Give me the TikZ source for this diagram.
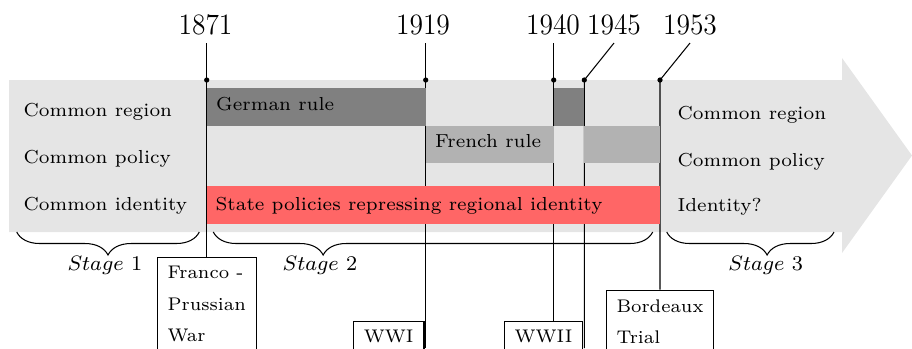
\documentclass[tikz,border=0pt]{standalone}
\usepackage{graphicx}
\usetikzlibrary{decorations.pathreplacing}
\newcommand{\yr}[1]{\scalebox{0.93}[1]{#1}}
\begin{document}
\begin{tikzpicture}[x=0.3825pt,y=-0.3825pt,
  rowtext/.style={font=\fontsize{7.2}{9}\selectfont, inner sep=0pt, anchor=base west},
  yearlabel/.style={font=\fontsize{11.3}{13}\selectfont, inner sep=0pt, anchor=base},
  eventbox/.style={draw, fill=white, font=\fontsize{7}{12}\selectfont, align=left, inner xsep=4pt, inner ysep=3.5pt},
  tick/.style={line width=0.4pt},
  datedot/.style={circle, fill=black, inner sep=0pt, minimum size=2pt},
  stagebrace/.style={decorate, decoration={brace, mirror, amplitude=8.8pt, aspect=#1}},
  stagelabel/.style={font=\footnotesize, inner sep=0pt, anchor=base},
]
\useasboundingbox (0,0) rectangle (912,348);
\clip (0,0) rectangle (912,348);
% big arrow
\fill[gray!20] (9,80) -- (842,80) -- (842,58) -- (912,155.5) -- (842,253) -- (842,232) -- (9,232) -- cycle;
% coordinates
\coordinate (t1871) at (206.7,43);  \coordinate (d1871) at (206.7,80);
\coordinate (t1919) at (425.7,43);  \coordinate (d1919) at (425.7,80);  \coordinate (b1919) at (425.7,348);
\coordinate (t1940) at (553.7,43);  \coordinate (d1940) at (553.7,80);
\coordinate (t1945) at (614,43);    \coordinate (d1945) at (584.3,80);  \coordinate (b1945) at (584.3,348);
\coordinate (t1953) at (690,43);    \coordinate (d1953) at (660,80);
% event boxes
\node[eventbox, anchor=north] (franco) at (206.7,256.7) {Franco -\\Prussian\\War};
\node[eventbox, anchor=north east] (wwi) at (424.5,320.7) {WWI};
\node[eventbox, anchor=north east] (wwii) at (583.3,320.7) {WWII};
\node[eventbox, anchor=north] (bordeaux) at (660,289.7) {Bordeaux\\Trial};
% date lines
\draw[tick] (t1871) -- (franco.north);
\draw[tick] (t1919) -- (b1919);
\draw[tick] (t1940) -- (d1940 |- wwii.north);
\draw[tick] (t1945) -- (d1945) -- (b1945);
\draw[tick] (t1953) -- (d1953) -- (bordeaux.north);
% bars
\fill[gray] (206.7,88) rectangle (425.7,125.5);
\fill[gray] (553.7,88) rectangle (584.3,125.5);
\fill[gray!60] (425.7,125.5) rectangle (553.7,163);
\fill[gray!60] (584.3,125.5) rectangle (660,163);
\fill[red!60] (206.7,186) rectangle (660,224);
% dots
\foreach \d in {d1871,d1919,d1940,d1945,d1953} \node[datedot] at (\d) {};
% years
\node[yearlabel] (y1871) at (205.5,34) {\yr{1871}};
\node[yearlabel] (y1919) at (423,34) {\yr{1919}};
\node[yearlabel] (y1940) at (553,34) {\yr{1940}};
\node[yearlabel] (y1945) at (614,34) {\yr{1945}};
\node[yearlabel] (y1953) at (690,34) {\yr{1953}};
% row texts
\node[rowtext] (lreg) at (23,116.7) {Common region};
\node[rowtext] (lpol) at (23,163.3) {Common policy};
\node[rowtext] (lid) at (23,210) {Common identity};
\node[rowtext] (rreg) at (677,119) {Common region};
\node[rowtext] (rpol) at (677,166.3) {Common policy};
\node[rowtext] (rid) at (677,211.3) {Identity?};
\node[rowtext] (german) at (215.7,110) {German rule};
\node[rowtext] (french) at (434.7,147.3) {French rule};
\node[rowtext] (state) at (215,210) {State policies repressing regional identity};
% braces
\coordinate (s1a) at (16.7,232);  \coordinate (s1b) at (199.3,232);
\coordinate (s2a) at (213.3,232); \coordinate (s2b) at (652.7,232);
\coordinate (s3a) at (666.7,232); \coordinate (s3b) at (834,232);
\draw[stagebrace=0.5] (s1a) -- (s1b);
\draw[stagebrace=0.25] (s2a) -- (s2b);
\draw[stagebrace=0.6] (s3a) -- (s3b);
\node[stagelabel] (st1) at (104.9,270) {$Stage$ 1};
\node[stagelabel] (st2) at (320,270.5) {$Stage$ 2};
\node[stagelabel] (st3) at (765.7,270) {$Stage$ 3};
\end{tikzpicture}
\end{document}
